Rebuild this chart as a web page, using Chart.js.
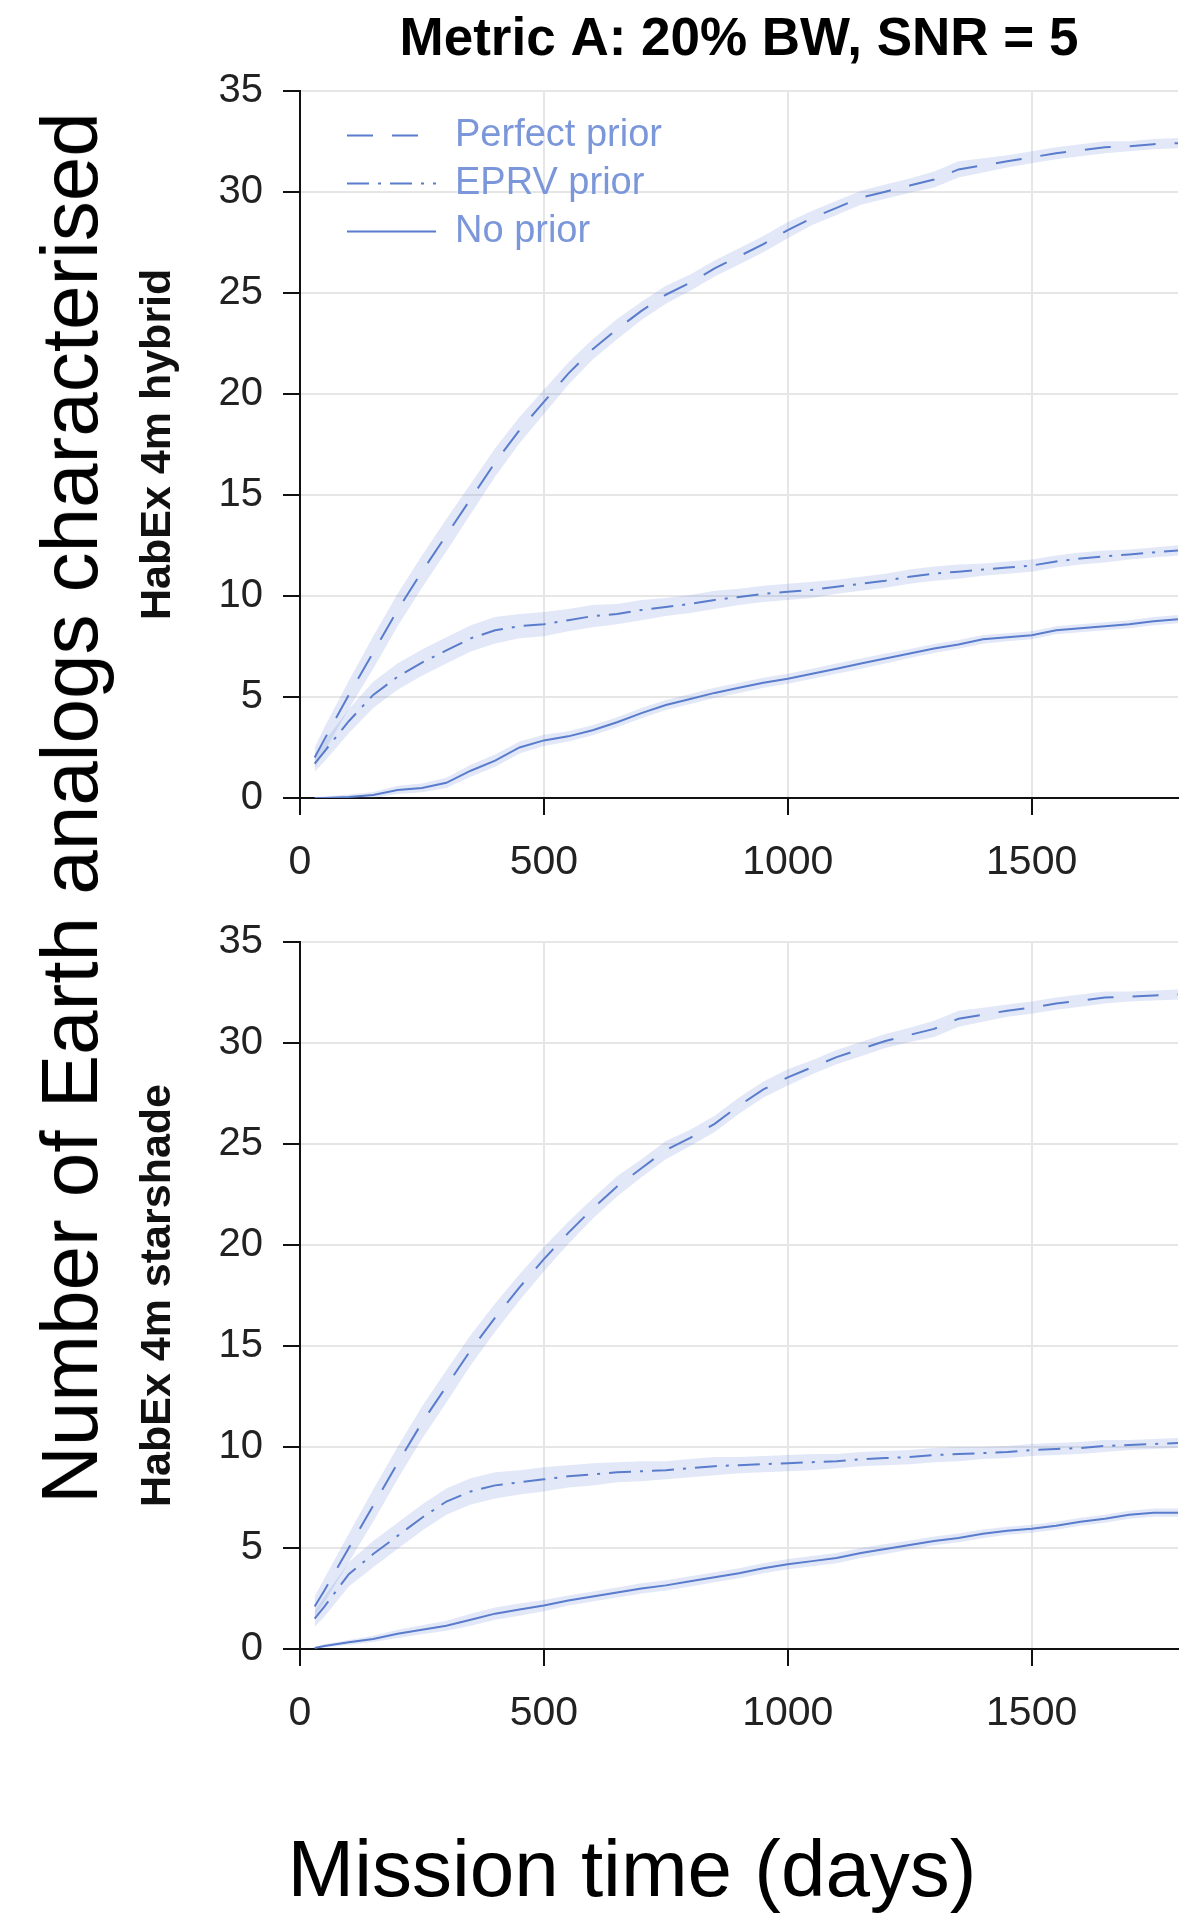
<!DOCTYPE html>
<html>
<head>
<meta charset="utf-8">
<title>Metric A: 20% BW, SNR = 5</title>
<script src="https://cdn.jsdelivr.net/npm/chart.js@4.4.1/dist/chart.umd.min.js"></script>
<style>
  body { margin: 0; background: #fff; }
  #page {
    position: relative; width: 1204px; height: 1913px; overflow: hidden;
    font-family: 'Liberation Sans', Arial, Helvetica, sans-serif; color: #000;
  }
  canvas { position: absolute; left: 0; }
  #topChart { top: 0; }
  #bottomChart { top: 890px; }
  .bigLabel { position: absolute; font-size: 80px; line-height: 80px; white-space: nowrap; }
  #yLabel { left: 70px; top: 808px; transform: translate(-50%, -50%) rotate(-90deg); }
  #xLabel { left: 632px; top: 1829px; transform: translateX(-50%); }
</style>
</head>
<body>
<div id="page">
  <canvas id="topChart" width="1204" height="890"></canvas>
  <canvas id="bottomChart" width="1204" height="870"></canvas>
  <div class="bigLabel" id="yLabel">Number of Earth analogs characterised</div>
  <div class="bigLabel" id="xLabel">Mission time (days)</div>
</div>
<script>
// mission time (days)
var days = [30, 50, 100, 150, 200, 250, 300, 350, 400, 450, 500, 550, 600, 650, 700, 750, 800, 850,
  900, 950, 1000, 1050, 1100, 1150, 1200, 1250, 1300, 1350, 1400, 1450, 1500, 1550, 1600, 1650, 1700, 1750, 1800];

// HabEx 4m hybrid
var hybridPerfect = [2.0, 2.9, 5.1, 7.2, 9.3, 11.2, 13.0, 14.8, 16.6, 18.2, 19.6, 21.0, 22.2, 23.2, 24.1, 24.9, 25.5, 26.2,
  26.8, 27.4, 28.1, 28.7, 29.2, 29.7, 30.0, 30.3, 30.6, 31.1, 31.3, 31.5, 31.7, 31.9, 32.05, 32.2, 32.25, 32.35, 32.4];
var hybridEprv = [1.7, 2.3, 3.8, 5.1, 6.0, 6.7, 7.3, 7.9, 8.3, 8.5, 8.6, 8.8, 9.0, 9.1, 9.3, 9.45, 9.6, 9.8,
  9.95, 10.1, 10.2, 10.3, 10.45, 10.6, 10.75, 10.95, 11.1, 11.2, 11.3, 11.4, 11.5, 11.7, 11.85, 11.95, 12.05, 12.15, 12.25];
var hybridNone = [0.0, 0.0, 0.05, 0.15, 0.4, 0.5, 0.75, 1.35, 1.85, 2.5, 2.85, 3.05, 3.35, 3.75, 4.2, 4.6, 4.9, 5.2,
  5.45, 5.7, 5.9, 6.15, 6.4, 6.65, 6.9, 7.15, 7.4, 7.6, 7.85, 7.95, 8.05, 8.3, 8.4, 8.5, 8.6, 8.75, 8.85];

// HabEx 4m starshade
var starshadePerfect = [2.1, 2.9, 5.0, 7.1, 9.2, 11.2, 13.0, 14.8, 16.4, 17.9, 19.3, 20.6, 21.8, 22.9, 23.8, 24.7, 25.3, 26.0,
  26.9, 27.7, 28.3, 28.8, 29.3, 29.7, 30.1, 30.4, 30.7, 31.2, 31.4, 31.6, 31.75, 31.95, 32.1, 32.25, 32.3, 32.35, 32.4];
var starshadeEprv = [1.5, 2.1, 3.7, 4.7, 5.6, 6.5, 7.3, 7.8, 8.1, 8.25, 8.4, 8.55, 8.65, 8.75, 8.8, 8.85, 8.95, 9.05,
  9.1, 9.15, 9.2, 9.25, 9.3, 9.4, 9.45, 9.5, 9.6, 9.65, 9.7, 9.75, 9.85, 9.9, 9.95, 10.05, 10.1, 10.15, 10.2];
var starshadeNone = [0.05, 0.15, 0.33, 0.5, 0.75, 0.95, 1.15, 1.45, 1.75, 1.95, 2.15, 2.4, 2.6, 2.8, 3.0, 3.15, 3.35, 3.55,
  3.75, 4.0, 4.2, 4.35, 4.5, 4.75, 4.95, 5.15, 5.35, 5.5, 5.7, 5.85, 5.95, 6.1, 6.3, 6.45, 6.65, 6.75, 6.75];

// half-width of the shaded spread around each curve
var spreadPerfect = [0.5, 0.6, 0.7, 0.8, 0.8, 0.8, 0.8, 0.75, 0.7, 0.65, 0.6, 0.55, 0.5, 0.5, 0.45, 0.45, 0.4, 0.4,
  0.4, 0.4, 0.4, 0.35, 0.35, 0.35, 0.35, 0.35, 0.4, 0.4, 0.35, 0.3, 0.3, 0.3, 0.3, 0.3, 0.25, 0.25, 0.25];
var spreadEprv = [0.4, 0.5, 0.6, 0.65, 0.65, 0.65, 0.65, 0.65, 0.65, 0.6, 0.6, 0.55, 0.55, 0.5, 0.5, 0.45, 0.45, 0.45,
  0.4, 0.4, 0.4, 0.4, 0.35, 0.35, 0.35, 0.35, 0.35, 0.35, 0.3, 0.3, 0.3, 0.3, 0.3, 0.3, 0.25, 0.25, 0.25];
var spreadNone = [0.05, 0.08, 0.12, 0.15, 0.2, 0.22, 0.25, 0.3, 0.3, 0.3, 0.28, 0.25, 0.25, 0.25, 0.25, 0.25, 0.25, 0.25,
  0.25, 0.25, 0.25, 0.25, 0.25, 0.25, 0.25, 0.22, 0.22, 0.22, 0.22, 0.2, 0.2, 0.2, 0.2, 0.2, 0.2, 0.2, 0.2];

var legendLabels = ['Perfect prior', 'EPRV prior', 'No prior'];
var xTicks = [0, 500, 1000, 1500];
var yTicks = [0, 5, 10, 15, 20, 25, 30, 35];

var lineColor = '#5a7ccc';
var bandColor = 'rgba(110, 142, 214, 0.2)';
var legendTextColor = '#7b97d9';
var dashes = [[26, 19], [22, 9, 3, 9], []];

Chart.defaults.font.family = "'Liberation Sans', Arial, Helvetica, sans-serif";

function points(values, spread, sign) {
  return values.map(function (v, i) {
    var y = spread ? Math.max(0, v + sign * spread[i]) : v;
    return { x: days[i], y: y };
  });
}

function panelDatasets(perfect, eprv, none) {
  var series = [
    { values: perfect, spread: spreadPerfect },
    { values: eprv, spread: spreadEprv },
    { values: none, spread: spreadNone }
  ];
  var sets = [];
  // curves first so they stay on top of the shading
  series.forEach(function (s, i) {
    sets.push({
      label: legendLabels[i],
      data: points(s.values),
      borderColor: lineColor,
      borderWidth: 2,
      borderDash: dashes[i],
      pointRadius: 0,
      tension: 0,
      fill: false,
      order: 0
    });
  });
  series.forEach(function (s) {
    sets.push({
      data: points(s.values, s.spread, -1),
      borderColor: 'rgba(0,0,0,0)', borderWidth: 0, pointRadius: 0, fill: false, order: 1
    });
    sets.push({
      data: points(s.values, s.spread, 1),
      borderColor: 'rgba(0,0,0,0)', borderWidth: 0, pointRadius: 0,
      fill: '-1', backgroundColor: bandColor, order: 1
    });
  });
  return sets;
}

function axisScales(panelTitle, xAxisHeight) {
  var grid = { color: '#e6e6e6', lineWidth: 2, tickColor: '#111', tickWidth: 2, tickLength: 17 };
  var border = { color: '#111', width: 2 };
  return {
    x: {
      type: 'linear', min: 0, max: 1800,
      afterBuildTicks: function (s) { s.ticks = xTicks.map(function (v) { return { value: v }; }); },
      afterFit: function (s) { s.height = xAxisHeight; },
      grid: grid, border: border,
      ticks: { color: '#222', padding: 23, maxRotation: 0, font: { size: 41 },
        callback: function (v) { return String(v); } }
    },
    y: {
      type: 'linear', min: 0, max: 35,
      afterBuildTicks: function (s) { s.ticks = yTicks.map(function (v) { return { value: v }; }); },
      afterFit: function (s) { s.width = 300; },
      grid: grid, border: border,
      ticks: { color: '#222', padding: 20, font: { size: 40 },
        callback: function (v) { return String(v); } },
      title: { display: true, text: panelTitle, color: '#111',
        font: { size: 43, weight: 'bold' }, padding: { top: 132, bottom: 0 } }
    }
  };
}

// legend sits inside the upper plot, top left
var insideLegend = {
  id: 'insideLegend',
  afterDatasetsDraw: function (chart) {
    var ctx = chart.ctx;
    var area = chart.chartArea;
    ctx.save();
    ctx.font = "38px 'Liberation Sans', Arial, Helvetica, sans-serif";
    ctx.textBaseline = 'middle';
    legendLabels.forEach(function (label, i) {
      var y = area.top + 45 + i * 48;
      ctx.beginPath();
      ctx.setLineDash(dashes[i]);
      ctx.strokeStyle = lineColor;
      ctx.lineWidth = 2;
      ctx.moveTo(area.left + 47, y);
      ctx.lineTo(area.left + 136, y);
      ctx.stroke();
      ctx.setLineDash([]);
      ctx.fillStyle = legendTextColor;
      ctx.fillText(label, area.left + 155, y);
    });
    ctx.restore();
  }
};

new Chart(document.getElementById('topChart').getContext('2d'), {
  type: 'line',
  data: { datasets: panelDatasets(hybridPerfect, hybridEprv, hybridNone) },
  options: {
    responsive: false,
    animation: false,
    layout: { padding: { top: 0, right: 26, bottom: 0, left: 0 } },
    scales: axisScales('HabEx 4m hybrid', 92),
    plugins: {
      legend: { display: false },
      tooltip: { enabled: false },
      title: {
        display: true,
        text: 'Metric A: 20% BW, SNR = 5',
        fullSize: false,
        color: '#000',
        font: { size: 53, weight: 'bold' },
        padding: { top: 9, bottom: 18 }
      }
    }
  },
  plugins: [insideLegend]
});

new Chart(document.getElementById('bottomChart').getContext('2d'), {
  type: 'line',
  data: { datasets: panelDatasets(starshadePerfect, starshadeEprv, starshadeNone) },
  options: {
    responsive: false,
    animation: false,
    layout: { padding: { top: 52, right: 26, bottom: 0, left: 0 } },
    scales: axisScales('HabEx 4m starshade', 111),
    plugins: {
      legend: { display: false },
      tooltip: { enabled: false }
    }
  }
});
</script>
</body>
</html>
